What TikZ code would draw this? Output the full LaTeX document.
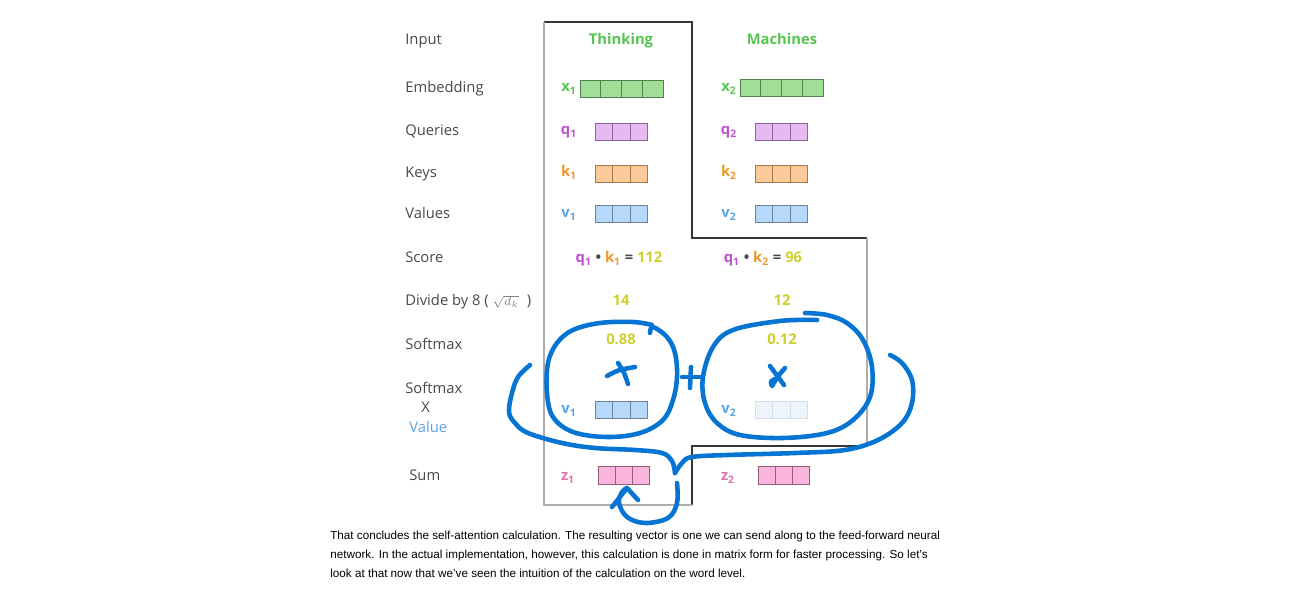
\documentclass[tikz,border=0pt]{standalone}
\usepackage{fontspec}
\setmainfont{Open Sans}
\newfontfamily\parafont{Liberation Sans}
\definecolor{labelgrey}{RGB}{72,72,72}
\definecolor{wordgreen}{RGB}{88,196,80}
\definecolor{xfill}{RGB}{162,222,152}
\definecolor{xline}{RGB}{80,128,80}
\definecolor{qtext}{RGB}{190,78,208}
\definecolor{qfill}{RGB}{232,184,242}
\definecolor{qline}{RGB}{140,100,150}
\definecolor{ktext}{RGB}{240,150,40}
\definecolor{kfill}{RGB}{250,202,152}
\definecolor{kline}{RGB}{165,120,75}
\definecolor{vtext}{RGB}{92,162,226}
\definecolor{vfill}{RGB}{182,216,250}
\definecolor{vline}{RGB}{110,130,150}
\definecolor{vpale}{RGB}{238,244,252}
\definecolor{vpaleline}{RGB}{214,222,232}
\definecolor{ztext}{RGB}{226,112,176}
\definecolor{zfill}{RGB}{250,182,222}
\definecolor{zline}{RGB}{150,92,122}
\definecolor{numyellow}{RGB}{206,206,44}
\definecolor{penblue}{RGB}{6,116,210}
\definecolor{framedark}{RGB}{55,55,55}
\definecolor{framelight}{RGB}{172,172,172}

\begin{document}
\begin{tikzpicture}[x=0.02cm,y=-0.02cm,
  rowlabel/.style={anchor=base west,inner sep=0,text=labelgrey,font=\fontsize{8.4}{10}\selectfont},
  word/.style={anchor=base,inner sep=0,text=wordgreen,font=\fontsize{8.4}{10}\selectfont\bfseries},
  vname/.style={anchor=base,inner sep=0,font=\fontsize{8.4}{10}\selectfont\bfseries},
  num/.style={anchor=base,inner sep=0,text=numyellow,font=\fontsize{8.4}{10}\selectfont\bfseries},
  xcell/.style={draw=xline,fill=xfill,line width=0.5pt},
  qcell/.style={draw=qline,fill=qfill,line width=0.5pt},
  kcell/.style={draw=kline,fill=kfill,line width=0.5pt},
  vcell/.style={draw=vline,fill=vfill,line width=0.5pt},
  vpalecell/.style={draw=vpaleline,fill=vpale,line width=0.5pt},
  zcell/.style={draw=zline,fill=zfill,line width=0.5pt},
  pen/.style={draw=penblue,line width=2.6pt,line cap=round,line join=round}]
\useasboundingbox (0,0) rectangle (1309,590);

\draw[framedark,line width=0.6pt] (544,22) -- (692,22) -- (692,238) -- (867,238);
\draw[framedark,line width=0.6pt] (867,446) -- (692,446) -- (692,505);
\draw[framelight,line width=0.6pt] (867,238) -- (867,446);
\draw[framelight,line width=0.6pt] (692,505) -- (544,505) -- (544,22);

\node[rowlabel] (input) at (405,45) {Input};
\node[rowlabel] (embedding) at (405,93) {Embedding};
\node[rowlabel] (queries) at (405,136) {Queries};
\node[rowlabel] (keys) at (405,178) {Keys};
\node[rowlabel] (values) at (405,219) {Values};
\node[rowlabel] (score) at (405,263) {Score};
\node[rowlabel] (divide) at (405,306) {Divide by 8 ( {\color{gray}\scriptsize$\sqrt{d_k}$}\ \ )};
\node[rowlabel] (softmax) at (405,350) {Softmax};
\node[rowlabel] (softmaxb) at (405,394) {Softmax};
\node[rowlabel] (times) at (421,413) {X};
\node[rowlabel,text=vtext] (value) at (409,433) {Value};
\node[rowlabel] (sum) at (409,481) {Sum};

\node[word] (thinking) at (621,45) {Thinking};
\node[word] (machines) at (782,45) {Machines};

\node[vname,text=wordgreen] (x1) at (569,92) {x\textsubscript{1}};
\node[vname,text=wordgreen] (x2) at (729,92) {x\textsubscript{2}};
\foreach \i in {0,...,3} {
  \draw[xcell] (580+20.75*\i,80) rectangle ++(20.75,17);
  \draw[xcell] (740+20.75*\i,79) rectangle ++(20.75,17);
}

\node[vname,text=qtext] (q1) at (569,135) {q\textsubscript{1}};
\node[vname,text=qtext] (q2) at (729,135) {q\textsubscript{2}};
\node[vname,text=ktext] (k1) at (569,177) {k\textsubscript{1}};
\node[vname,text=ktext] (k2) at (729,177) {k\textsubscript{2}};
\node[vname,text=vtext] (v1) at (569,218) {v\textsubscript{1}};
\node[vname,text=vtext] (v2) at (729,218) {v\textsubscript{2}};
\foreach \i in {0,1,2} {
  \draw[qcell] (595+17.6*\i,123) rectangle ++(17.6,17);
  \draw[qcell] (755+17.6*\i,123) rectangle ++(17.6,17);
  \draw[kcell] (595+17.6*\i,165) rectangle ++(17.6,17);
  \draw[kcell] (755+17.6*\i,165) rectangle ++(17.6,17);
  \draw[vcell] (595+17.6*\i,205) rectangle ++(17.6,17);
  \draw[vcell] (755+17.6*\i,205) rectangle ++(17.6,17);
}

\node[vname] (score1) at (619,263) {\textcolor{qtext}{q\textsubscript{1}} \textcolor{labelgrey}{\textbullet} \textcolor{ktext}{k\textsubscript{1}} \textcolor{labelgrey}{=} \textcolor{numyellow}{112}};
\node[vname] (score2) at (763,263) {\textcolor{qtext}{q\textsubscript{1}} \textcolor{labelgrey}{\textbullet} \textcolor{ktext}{k\textsubscript{2}} \textcolor{labelgrey}{=} \textcolor{numyellow}{96}};

\node[num] (div1) at (621,306) {14};
\node[num] (div2) at (782,306) {12};
\node[num] (soft1) at (621,345) {0.88};
\node[num] (soft2) at (782,345) {0.12};

\node[vname,text=vtext] (v1b) at (569,414) {v\textsubscript{1}};
\node[vname,text=vtext] (v2b) at (729,414) {v\textsubscript{2}};
\foreach \i in {0,1,2} {
  \draw[vcell] (595+17.6*\i,401) rectangle ++(17.6,17);
  \draw[vpalecell] (755+17.6*\i,401) rectangle ++(17.6,17);
}

\node[vname,text=ztext] (z1) at (568,481) {z\textsubscript{1}};
\node[vname,text=ztext] (z2) at (728,481) {z\textsubscript{2}};
\foreach \i in {0,1,2} {
  \draw[zcell] (598+17.3*\i,466) rectangle ++(17.3,18);
  \draw[zcell] (758+17.3*\i,466) rectangle ++(17.3,18);
}

\draw[pen] plot[smooth,tension=0.6] coordinates {(652,325) (633,322) (600,323) (573,330) (557,343) (548,363) (547,393) (553,417) (573,432) (607,437) (640,433) (663,420) (673,400) (677,377) (675,353) (667,337) (653,327) (650,333)};
\draw[pen] plot[smooth,tension=0.6] coordinates {(817,320) (780,321) (733,330) (713,347) (703,377) (705,403) (717,423) (740,435) (783,438) (827,433) (853,420) (870,397) (872,367) (863,340) (847,323) (827,315) (805,313)};
\draw[pen] (691,367) -- (690,388);
\draw[pen] (682,377) -- (700,377);
\draw[pen] (607,376) .. controls (618,370) .. (635,367);
\draw[pen] (618,363) .. controls (624,372) .. (628,384);
\draw[pen] (770,366) -- (784,385);
\draw[pen] (785,368) .. controls (778,376) .. (772,386) .. controls (770,381) .. (778,378);
\draw[pen] plot[smooth,tension=0.6] coordinates {(530,365) (518,377) (512,393) (509,412) (515,423) (528,433) (562,443) (595,448) (635,450) (662,453) (672,461) (675,473)};
\draw[pen] plot[smooth,tension=0.6] coordinates {(675,473) (682,463) (692,457) (728,455) (795,453) (845,450) (878,440) (902,423) (912,403) (912,380) (902,363) (890,355)};
\draw[pen] plot[smooth,tension=0.6] coordinates {(677,483) (677,503) (668,518) (645,523) (627,517) (619,503) (622,492) (627,488)};
\draw[pen] (612,507) -- (627,488) -- (638,500);

\node[anchor=base west,inner sep=0,font=\parafont\fontsize{6.65}{8}\selectfont] (para1) at (330,540) {That concludes the self-attention calculation. The resulting vector is one we can send along to the feed-forward neural};
\node[anchor=base west,inner sep=0,font=\parafont\fontsize{6.65}{8}\selectfont] (para2) at (330,559) {network. In the actual implementation, however, this calculation is done in matrix form for faster processing. So let’s};
\node[anchor=base west,inner sep=0,font=\parafont\fontsize{6.65}{8}\selectfont] (para3) at (330,578) {look at that now that we’ve seen the intuition of the calculation on the word level.};
\end{tikzpicture}
\end{document}
